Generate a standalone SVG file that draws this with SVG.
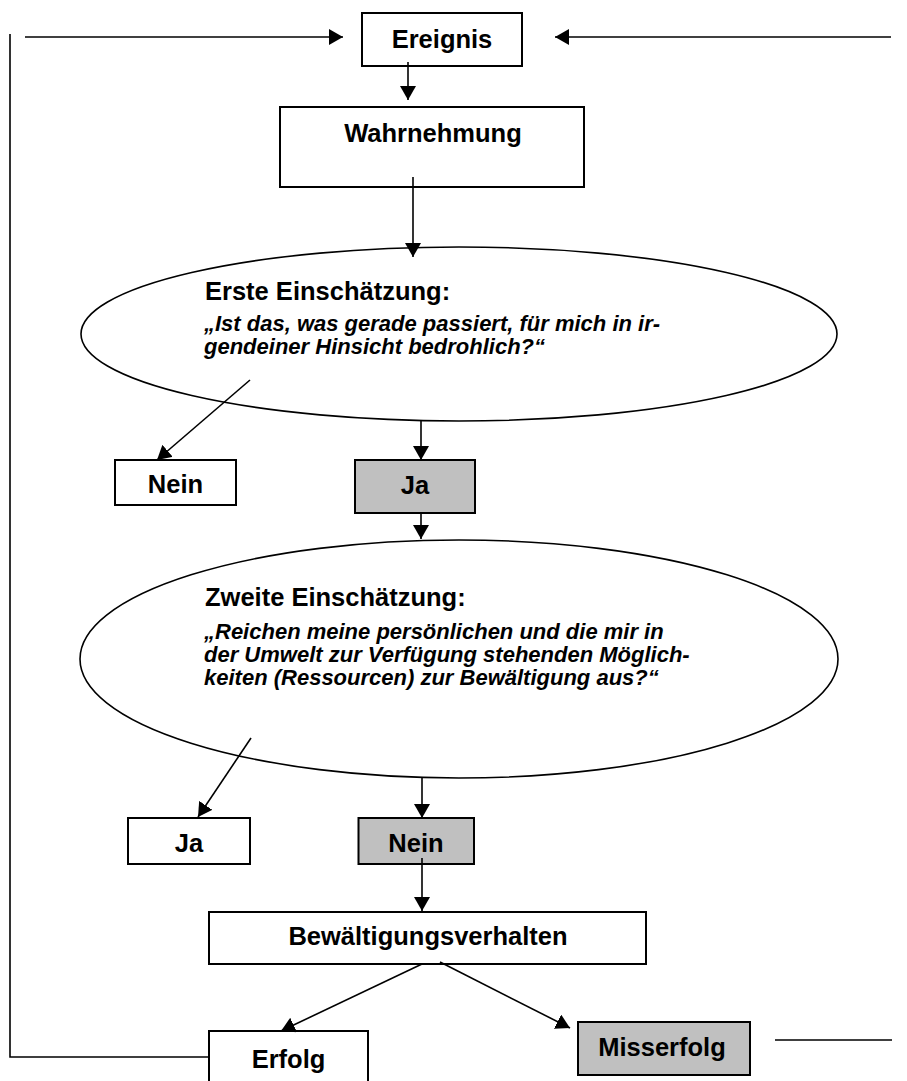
<svg xmlns="http://www.w3.org/2000/svg" width="907" height="1081" viewBox="0 0 907 1081">
<style>
.box{fill:#fff;stroke:#000;stroke-width:2}
.grey{fill:#c0c0c0;stroke:#000;stroke-width:2}
.ell{fill:#fff;stroke:#000;stroke-width:1.6}
.lbl{font-family:"Liberation Sans",Arial,sans-serif;font-weight:bold;font-size:25.5px;fill:#000}
.mid{text-anchor:middle}
.q{font-family:"Liberation Sans",Arial,sans-serif;font-weight:bold;font-style:italic;font-size:22px;fill:#000}
.con line,.con polyline{stroke:#000;stroke-width:1.6;fill:none}
</style>
<defs>
<marker id="ah" viewBox="0 0 14 16" refX="14" refY="8" markerWidth="14" markerHeight="16" markerUnits="userSpaceOnUse" orient="auto">
<path d="M0,0 L14,8 L0,16 z" fill="#000"/>
</marker>
</defs>
<rect width="907" height="1081" fill="#fff"/>
<g id="ereignis"><rect class="box" x="362" y="13" width="160" height="53"/><text class="lbl mid" x="442" y="48">Ereignis</text></g>
<g id="wahrnehmung"><rect class="box" x="280" y="107" width="304" height="80"/><text class="lbl mid" x="433" y="142">Wahrnehmung</text></g>
<g id="erste"><ellipse class="ell" cx="459" cy="334" rx="378" ry="87"/>
<text class="lbl" x="205" y="300">Erste Einschätzung:</text>
<text class="q" x="204" y="331">„Ist das, was gerade passiert, für mich in ir-</text>
<text class="q" x="204" y="354">gendeiner Hinsicht bedrohlich?“</text></g>
<g id="nein1"><rect class="box" x="115" y="460" width="121" height="45"/><text class="lbl mid" x="175.5" y="493">Nein</text></g>
<g id="ja1"><rect class="grey" x="355" y="460" width="120" height="53"/><text class="lbl mid" x="415" y="494">Ja</text></g>
<g id="zweite"><ellipse class="ell" cx="459" cy="659" rx="379" ry="119"/>
<text class="lbl" x="205" y="606">Zweite Einschätzung:</text>
<text class="q" x="204" y="639">„Reichen meine persönlichen und die mir in</text>
<text class="q" x="204" y="662">der Umwelt zur Verfügung stehenden Möglich-</text>
<text class="q" x="204" y="685">keiten (Ressourcen) zur Bewältigung aus?“</text></g>
<g id="ja2"><rect class="box" x="128" y="818" width="122" height="46"/><text class="lbl mid" x="189" y="852">Ja</text></g>
<g id="nein2"><rect class="grey" x="358.5" y="818" width="115.5" height="46"/><text class="lbl mid" x="416" y="852">Nein</text></g>
<g id="bewaeltigung"><rect class="box" x="209" y="912" width="437" height="52"/><text class="lbl mid" x="428" y="945">Bewältigungsverhalten</text></g>
<g id="erfolg"><rect class="box" x="209" y="1031" width="159" height="70"/><text class="lbl mid" x="288.5" y="1068">Erfolg</text></g>
<g id="misserfolg"><rect class="grey" x="578" y="1022" width="172" height="53"/><text class="lbl mid" x="662" y="1056">Misserfolg</text></g>
<g id="connectors" class="con">
<polyline points="209,1057 10,1057 10,34"/>
<line x1="25" y1="37" x2="343" y2="37" marker-end="url(#ah)"/>
<line x1="891" y1="37" x2="555" y2="37" marker-end="url(#ah)"/>
<line x1="408" y1="62" x2="408" y2="100" marker-end="url(#ah)"/>
<line x1="413" y1="177" x2="413" y2="257" marker-end="url(#ah)"/>
<line x1="250" y1="380" x2="157" y2="460" marker-end="url(#ah)"/>
<line x1="421" y1="421" x2="421" y2="460" marker-end="url(#ah)"/>
<line x1="421" y1="513" x2="421" y2="539" marker-end="url(#ah)"/>
<line x1="251" y1="738" x2="198" y2="817" marker-end="url(#ah)"/>
<line x1="422" y1="778" x2="422" y2="818" marker-end="url(#ah)"/>
<line x1="422" y1="858" x2="422" y2="911" marker-end="url(#ah)"/>
<line x1="422" y1="964" x2="281" y2="1031" marker-end="url(#ah)"/>
<line x1="440" y1="962" x2="570" y2="1028" marker-end="url(#ah)"/>
<line x1="775" y1="1040" x2="892" y2="1040"/>
</g>
</svg>
